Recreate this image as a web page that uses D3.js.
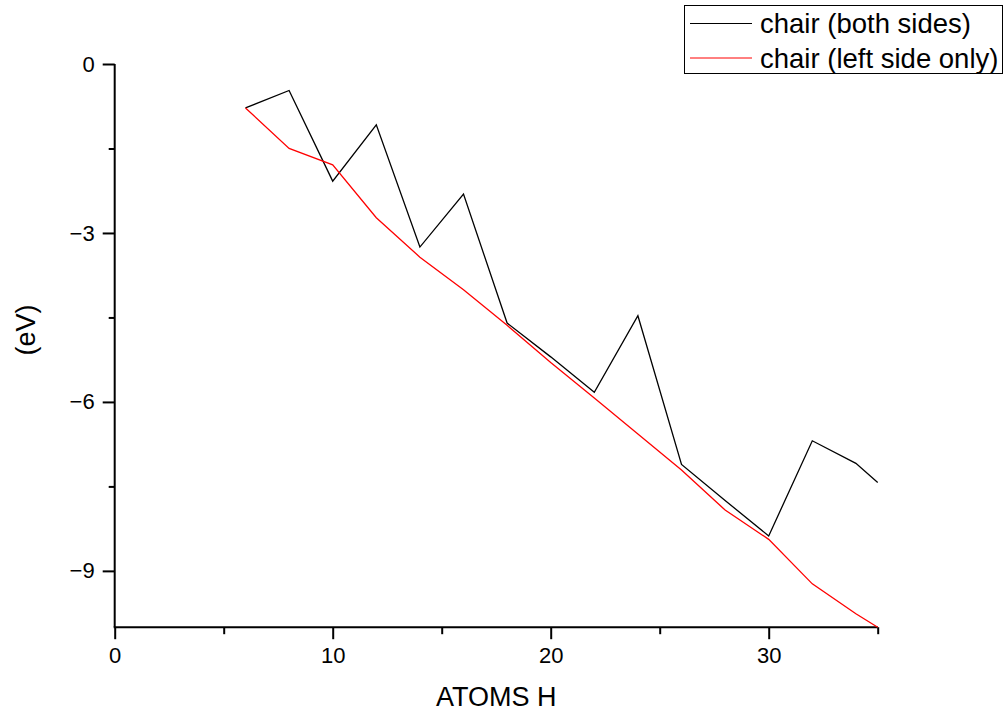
<!DOCTYPE html>
<html>
<head>
<meta charset="utf-8">
<script src="https://cdn.jsdelivr.net/npm/d3@7"></script>
<style>
  html, body { margin: 0; padding: 0; background: #fff; }
  svg { display: block; font-family: "Liberation Sans", Arial, sans-serif; }
</style>
</head>
<body>
<svg id="chart" width="1008" height="713"></svg>
<script>
// Number of H atoms
const atoms = [6, 8, 10, 12, 14, 16, 18, 20, 22, 24, 26, 28, 30, 32, 34, 35];
// Energies (eV)
const bothSides = [-0.78, -0.47, -2.08, -1.08, -3.25, -2.31, -4.6, -5.2, -5.83, -4.47, -7.11, -7.75, -8.38, -6.69, -7.09, -7.43];
const leftSideOnly = [-0.78, -1.5, -1.79, -2.73, -3.43, -4.01, -4.64, -5.3, -5.93, -6.57, -7.21, -7.92, -8.44, -9.23, -9.76, -10.0];

const seriesNames = ["chair (both sides)", "chair (left side only)"];
const seriesColors = ["#000000", "#ff0000"];

const xMajorTicks = [0, 10, 20, 30];
const xMinorTicks = [5, 15, 25, 35];
const yMajorTicks = [0, -3, -6, -9];
const yMinorTicks = [-1.5, -4.5, -7.5];

const svg = d3.select("#chart");
const plotLeft = 114.7, plotRight = 877.7, plotTop = 64, plotBottom = 627.2;

const x = d3.scaleLinear().domain([0, 35]).range([plotLeft, plotRight]);
const y = d3.scaleLinear().domain([-10, 0]).range([plotBottom, plotTop]);

// x axis: major ticks with labels, minor ticks without
const xAxis = svg.append("g").attr("transform", `translate(0,${plotBottom})`);
xAxis.call(d3.axisBottom(x).tickValues(xMajorTicks).tickSize(12).tickPadding(8).tickFormat(d3.format("d")));
const xMinor = svg.append("g").attr("transform", `translate(0,${plotBottom})`);
xMinor.call(d3.axisBottom(x).tickValues(xMinorTicks).tickSize(7).tickFormat(""));
xMinor.select(".domain").remove();

// y axis
const yAxis = svg.append("g").attr("transform", `translate(${plotLeft},0)`);
yAxis.call(d3.axisLeft(y).tickValues(yMajorTicks).tickSize(12).tickPadding(8).tickFormat(d3.format("d")));
const yMinor = svg.append("g").attr("transform", `translate(${plotLeft},0)`);
yMinor.call(d3.axisLeft(y).tickValues(yMinorTicks).tickSize(6).tickFormat(""));
yMinor.select(".domain").remove();

// plain axis lines without end caps
svg.selectAll(".domain").attr("stroke", "#000").attr("stroke-width", 2);
xAxis.select(".domain").attr("d", `M${plotLeft - 1},0H${plotRight}`);
yAxis.select(".domain").attr("d", `M0,${plotBottom}V${plotTop}`);
svg.selectAll(".tick line").attr("stroke", "#000").attr("stroke-width", 2);
svg.selectAll(".tick text").attr("fill", "#000").style("font-size", "22px");

// data lines
const series = [bothSides, leftSideOnly];
const line = d3.line().x(d => x(d[0])).y(d => y(d[1]));
series.forEach((vals, i) => {
  svg.append("path")
    .datum(atoms.map((a, j) => [a, vals[j]]))
    .attr("fill", "none")
    .attr("stroke", seriesColors[i])
    .attr("stroke-width", 1.3)
    .attr("d", line);
});

// axis titles
svg.append("text")
  .attr("x", (plotLeft + plotRight) / 2)
  .attr("y", 706)
  .attr("text-anchor", "middle")
  .style("font-size", "27px")
  .text("ATOMS H");

svg.append("text")
  .attr("transform", "translate(35,330) rotate(-90)")
  .attr("text-anchor", "middle")
  .style("font-size", "27px")
  .text("(eV)");

// legend
const legend = svg.append("g");
legend.append("rect")
  .attr("x", 684.5).attr("y", 5.5)
  .attr("width", 318).attr("height", 68)
  .attr("fill", "#fff").attr("stroke", "#000").attr("stroke-width", 1);
seriesNames.forEach((name, i) => {
  const ly = 23.5 + i * 34.5;
  legend.append("line")
    .attr("x1", 690).attr("x2", 752)
    .attr("y1", ly).attr("y2", ly)
    .attr("stroke", seriesColors[i]).attr("stroke-width", 1);
  legend.append("text")
    .attr("x", 760).attr("y", ly + 9.5)
    .style("font-size", "27.5px")
    .text(name);
});
</script>
</body>
</html>
